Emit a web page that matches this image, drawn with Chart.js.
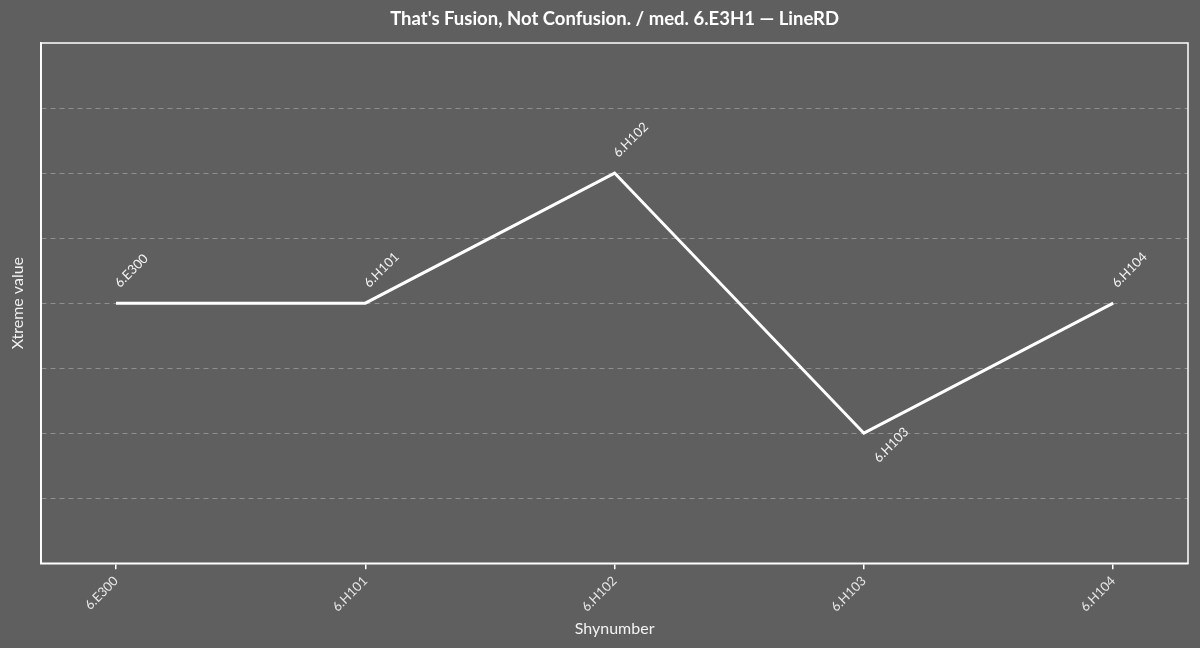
<!DOCTYPE html>
<html>
<head>
<meta charset="utf-8">
<script src="https://cdn.jsdelivr.net/npm/chart.js@4/dist/chart.umd.min.js"></script>
<style>
  html, body { margin: 0; padding: 0; background: #5f5f5f; }
  #wrap { width: 1200px; height: 648px; }
</style>
</head>
<body>
<div id="wrap"><canvas id="lineChart" width="1200" height="648"></canvas></div>
<script>
const categories = ["6.E300", "6.H101", "6.H102", "6.H103", "6.H104"];
const yValues = [4, 4, 6, 2, 4];
const pointLabels = ["6.E300", "6.H101", "6.H102", "6.H103", "6.H104"];
const labelBelow = [false, false, false, true, false];
const titleText = "That's Fusion, Not Confusion. / med. 6.E3H1 \u2014 LineRD";

const FONT = "Lato, 'Open Sans', sans-serif";
const ctx = document.getElementById("lineChart").getContext("2d");

/* title centred on the plot area, frame, rotated point labels */
const framePlugin = {
  id: "frame",
  afterDatasetsDraw(chart) {
    const { ctx, chartArea: a } = chart;
    ctx.save();
    ctx.strokeStyle = "#ffffff";
    ctx.lineWidth = 1.5;
    ctx.setLineDash([]);
    ctx.strokeRect(a.left, a.top, a.right - a.left, a.bottom - a.top);

    ctx.fillStyle = "#ffffff";
    ctx.font = "bold 18.5px " + FONT;
    ctx.textAlign = "center";
    ctx.textBaseline = "middle";
    ctx.fillText(titleText, (a.left + a.right) / 2, 19);

    const meta = chart.getDatasetMeta(0);
    ctx.fillStyle = "#f2f2f2";
    ctx.font = "13px " + FONT;
    ctx.textBaseline = "alphabetic";
    meta.data.forEach((pt, i) => {
      ctx.save();
      if (labelBelow[i]) {
        ctx.translate(pt.x + 15, pt.y + 30);
      } else {
        ctx.translate(pt.x + 4, pt.y - 15);
      }
      ctx.rotate(-Math.PI / 4);
      ctx.textAlign = "left";
      ctx.fillText(pointLabels[i], 0, 0);
      ctx.restore();
    });
    ctx.restore();
  }
};

new Chart(ctx, {
  type: "line",
  data: {
    datasets: [{
      label: "LineRD",
      data: yValues.map((v, i) => ({ x: i, y: v })),
      borderColor: "#ffffff",
      borderWidth: 3,
      pointRadius: 0,
      tension: 0,
      fill: false
    }]
  },
  options: {
    responsive: false,
    animation: false,
    layout: { padding: { left: 8, right: 12, top: 43, bottom: 10 } },
    plugins: {
      legend: { display: false },
      tooltip: { enabled: false },
      title: { display: false }
    },
    scales: {
      x: {
        type: "linear",
        min: -0.3,
        max: 4.3,
        afterBuildTicks: (scale) => {
          scale.ticks = categories.map((c, i) => ({ value: i }));
        },
        ticks: {
          color: "#e6e6e6",
          font: { family: FONT, size: 13 },
          maxRotation: 45,
          minRotation: 45,
          padding: 4,
          callback: (v) => categories[v]
        },
        grid: {
          drawOnChartArea: false,
          drawTicks: true,
          tickLength: 6,
          color: "#ffffff",
          lineWidth: 1.5
        },
        border: { display: true, color: "#ffffff", width: 1.5 },
        title: {
          display: true,
          text: "Shynumber",
          color: "#f2f2f2",
          font: { family: FONT, size: 16 },
          padding: { top: 0, bottom: 0 }
        }
      },
      y: {
        min: 0,
        max: 8,
        ticks: { display: false, stepSize: 1 },
        grid: {
          drawTicks: false,
          color: (c) => (c.tick && (c.tick.value === 0 || c.tick.value === 8)) ? "rgba(0,0,0,0)" : "rgba(255,255,255,0.3)",
          lineWidth: 1
        },
        border: { display: true, color: "#ffffff", width: 1.5, dash: [5, 4] },
        title: {
          display: true,
          text: "Xtreme value",
          color: "#f2f2f2",
          font: { family: FONT, size: 16 },
          padding: { top: 0, bottom: 14 }
        }
      }
    }
  },
  plugins: [framePlugin]
});
</script>
</body>
</html>
